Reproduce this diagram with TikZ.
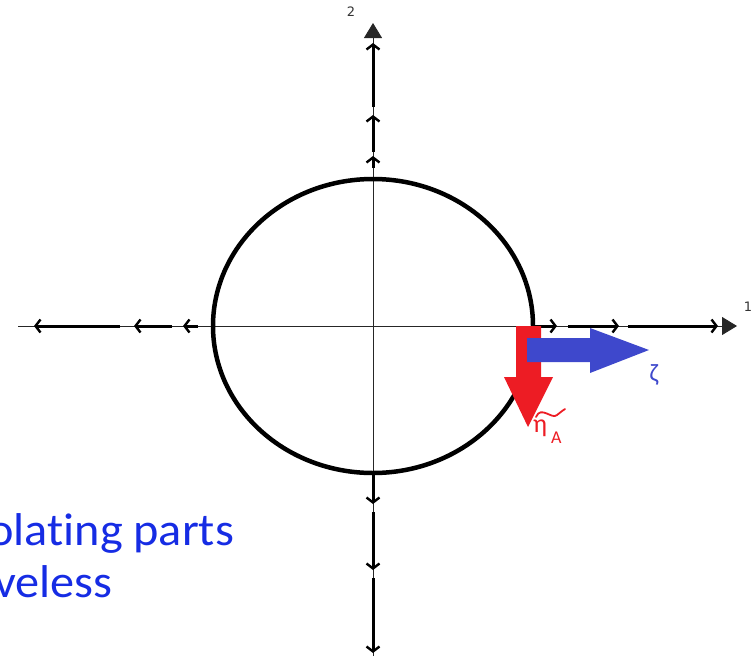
\documentclass[tikz,border=0pt]{standalone}
\usepackage{fontspec}
\setmainfont{Carlito}[Ligatures={NoCommon}]
\newfontfamily\labelfont{DejaVu Sans}
\usetikzlibrary{arrows.meta,positioning}
\definecolor{zetacolor}{RGB}{62,72,204}
\definecolor{etacolor}{RGB}{237,28,36}
\definecolor{textcolor}{RGB}{22,44,228}
\tikzset{
  axisln/.style={line width=0.9pt, black!85},
  axistip/.style={-{Triangle[length=15pt,width=18pt]}},
  flowln/.style={-{Straight Barb[length=5pt,width=13pt,line width=2.4pt]}, line width=3pt},
  circln/.style={line width=4.5pt},
  axislbl/.style={font=\labelfont\fontsize{13}{13}\selectfont, text=black!80, inner sep=0pt},
  bigtext/.style={text=textcolor, font=\fontsize{46}{52}\selectfont, anchor=base west,
    inner sep=0pt, xscale=1.05, transform shape},
}
\begin{document}
\begin{tikzpicture}[x=1pt, y=-1pt]
  \useasboundingbox (0,0) rectangle (752,656);
  \coordinate (o) at (373,326);
  \coordinate (xl) at (18,326);
  \coordinate (xr) at (737,326);
  \coordinate (yt) at (373,23);
  \coordinate (yb) at (373,656);
  \draw[axisln, axistip] (xl) -- (xr);
  \draw[axisln, axistip] (yb) -- (yt);
  \draw[circln] (o) ellipse [x radius=160, y radius=147];
  \draw[flowln] (120,326) -- (34,326);
  \draw[flowln] (172,326) -- (134,326);
  \draw[flowln] (198,326) -- (183,326);
  \draw[flowln] (531,326) -- (557,326);
  \draw[flowln] (568,326) -- (619,326);
  \draw[flowln] (628,326) -- (718,326);
  \draw[flowln] (373,107) -- (373,43);
  \draw[flowln] (373,152) -- (373,115);
  \draw[flowln] (373,168) -- (373,156);
  \draw[flowln] (373,473) -- (373,504);
  \draw[flowln] (373,512) -- (373,570);
  \draw[flowln] (373,578) -- (373,653);
  \node[axislbl] (lbl2) at (351,12) {2};
  \node[axislbl] (lbl1) at (748,307) {1};
  \fill[etacolor] (516,326) -- (541,326) -- (541,377) -- (553,377) -- (528,427)
    -- (504,377) -- (516,377) -- cycle;
  \fill[zetacolor] (527,338) -- (590,338) -- (590,328) -- (649,350) -- (590,373)
    -- (590,362) -- (527,362) -- cycle;
  \node[text=zetacolor, font=\fontsize{25}{25}\selectfont, inner sep=0pt] (zeta) at (654,375) {ζ};
  \node[text=etacolor, font=\fontsize{26}{26}\selectfont, inner sep=0pt, anchor=base west] (eta) at (533,432) {η};
  \node[text=etacolor, font=\fontsize{18}{18}\selectfont, inner sep=0pt, anchor=base west] (etasub) at (551,443) {A};
  \draw[etacolor, line width=1.8pt, line cap=round] (536,417) .. controls (541,405) and (552,420) .. (557,415)
    .. controls (561,412) and (563,410) .. (565,409);
  \node[bigtext] (txt1) at (-12,545) {olating parts};
  \node[bigtext] (txt2) at (-6,597) {veless};
\end{tikzpicture}
\end{document}
